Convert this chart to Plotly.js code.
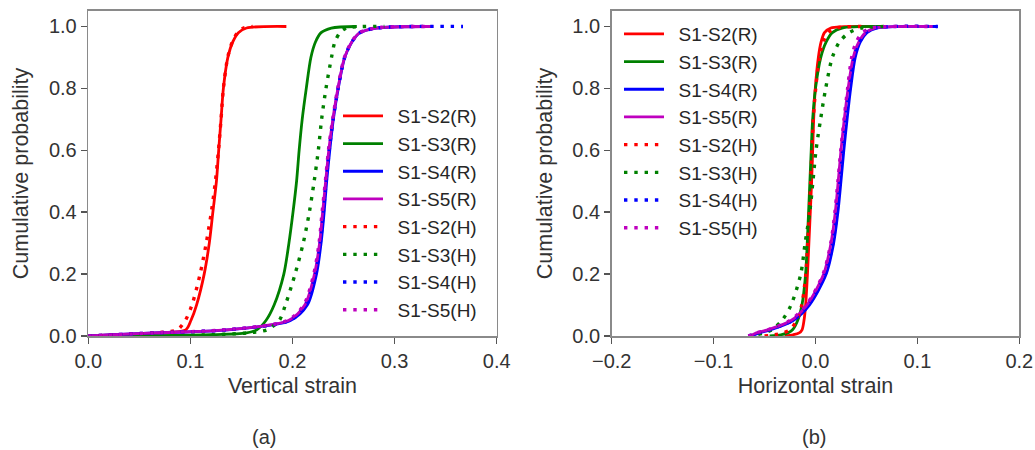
<!DOCTYPE html>
<html>
<head>
<meta charset="utf-8">
<script src="https://cdn.plot.ly/plotly-3.0.1.min.js"></script>
<style>
  html, body { margin: 0; padding: 0; background: #ffffff; }
  #chart { width: 1035px; height: 450px; }
</style>
</head>
<body>
<div id="chart"></div>
<script>
// Cumulative probability levels at which each strain quantile is listed
const probLevels = [0, 0.004, 0.01, 0.02, 0.05, 0.1, 0.2, 0.3, 0.4, 0.5, 0.6, 0.7, 0.8, 0.9, 0.95, 0.98, 0.995, 1];

// Series names (R = solid, H = dotted)
const seriesNames = ['S1-S2(R)', 'S1-S3(R)', 'S1-S4(R)', 'S1-S5(R)', 'S1-S2(H)', 'S1-S3(H)', 'S1-S4(H)', 'S1-S5(H)'];

// (a) Vertical strain quantiles
const vS2R = [0.0, 0.030, 0.070, 0.0955, 0.1005, 0.106, 0.1135, 0.1185, 0.122, 0.1255, 0.1277, 0.130, 0.1323, 0.1367, 0.1415, 0.147, 0.155, 0.194];
const vS3R = [0.02, 0.120, 0.155, 0.165, 0.174, 0.182, 0.1915, 0.1965, 0.2005, 0.204, 0.2065, 0.2095, 0.2135, 0.218, 0.2225, 0.228, 0.238, 0.263];
const vS4R = [0.0, 0.025, 0.065, 0.137, 0.198, 0.2145, 0.2235, 0.228, 0.231, 0.2335, 0.2365, 0.240, 0.2448, 0.2512, 0.2582, 0.2662, 0.282, 0.330];
const vS5R = [0.0, 0.025, 0.065, 0.135, 0.196, 0.212, 0.2215, 0.2265, 0.2295, 0.2325, 0.2355, 0.2395, 0.2445, 0.251, 0.258, 0.266, 0.282, 0.338];
const vS2H = [0.0, 0.030, 0.065, 0.087, 0.095, 0.1015, 0.1095, 0.1155, 0.1205, 0.1245, 0.1275, 0.130, 0.1323, 0.1365, 0.141, 0.146, 0.152, 0.161];
const vS3H = [0.02, 0.120, 0.155, 0.175, 0.187, 0.193, 0.2025, 0.2105, 0.2165, 0.2212, 0.2253, 0.2285, 0.2328, 0.2382, 0.2415, 0.2465, 0.253, 0.290];
const vS4H = [0.0, 0.025, 0.065, 0.136, 0.197, 0.213, 0.2225, 0.2272, 0.2302, 0.233, 0.236, 0.2398, 0.2447, 0.2511, 0.2581, 0.2661, 0.282, 0.367];
const vS5H = [0.0, 0.025, 0.065, 0.134, 0.195, 0.211, 0.2208, 0.226, 0.229, 0.2322, 0.2352, 0.2393, 0.2443, 0.2508, 0.2578, 0.2658, 0.281, 0.335];

// (b) Horizontal strain quantiles
const hS2R = [-0.030, -0.022, -0.016, -0.0132, -0.0113, -0.0097, -0.0079, -0.0065, -0.0051, -0.0038, -0.0028, -0.0018, -0.0002, 0.0028, 0.0055, 0.0088, 0.015, 0.060];
const hS3R = [-0.045, -0.034, -0.027, -0.0225, -0.0175, -0.0133, -0.0097, -0.0081, -0.0068, -0.0055, -0.0042, -0.0028, 0.0000, 0.0052, 0.0105, 0.0165, 0.026, 0.070];
const hS4R = [-0.064, -0.060, -0.055, -0.044, -0.022, -0.006, 0.0105, 0.0178, 0.022, 0.025, 0.0278, 0.031, 0.0345, 0.039, 0.044, 0.0505, 0.060, 0.120];
const hS5R = [-0.066, -0.062, -0.058, -0.047, -0.024, -0.0085, 0.008, 0.0152, 0.0194, 0.0223, 0.025, 0.0282, 0.032, 0.037, 0.0425, 0.049, 0.058, 0.115];
const hS2H = [-0.050, -0.040, -0.032, -0.025, -0.0185, -0.0135, -0.0095, -0.0076, -0.006, -0.0047, -0.0035, -0.0022, 0.0002, 0.0038, 0.0075, 0.0125, 0.020, 0.045];
const hS3H = [-0.066, -0.058, -0.050, -0.043, -0.033, -0.024, -0.0145, -0.0102, -0.0056, -0.0025, 0.0005, 0.005, 0.010, 0.0165, 0.0235, 0.033, 0.045, 0.070];
const hS4H = [-0.066, -0.061, -0.056, -0.045, -0.023, -0.007, 0.0095, 0.017, 0.021, 0.024, 0.0268, 0.0298, 0.0335, 0.038, 0.043, 0.0495, 0.058, 0.120];
const hS5H = [-0.066, -0.062, -0.058, -0.047, -0.025, -0.009, 0.0075, 0.015, 0.019, 0.022, 0.0248, 0.028, 0.0315, 0.0355, 0.040, 0.046, 0.055, 0.110];

const seriesColors = ['#ff0000', '#008000', '#0000ff', '#bf00bf', '#ff0000', '#008000', '#0000ff', '#bf00bf'];

const verticalSets = [vS2R, vS3R, vS4R, vS5R, vS2H, vS3H, vS4H, vS5H];
const horizontalSets = [hS2R, hS3R, hS4R, hS5R, hS2H, hS3H, hS4H, hS5H];

const FONT = 'Liberation Sans, Arial, sans-serif';

function buildTraces(sets, xref, yref, legendId) {
  return sets.map((xs, i) => {
    const dotted = i >= 4;
    return {
      type: 'scatter',
      mode: 'lines',
      // en space keeps a little air between the key line and its label
      name: '\u2002' + seriesNames[i],
      x: xs,
      y: probLevels,
      xaxis: xref,
      yaxis: yref,
      legend: legendId,
      line: {
        color: seriesColors[i],
        width: dotted ? 3.4 : 2.8,
        dash: dotted ? '3.4px,6.9px' : 'solid',
        shape: 'spline',
        smoothing: 0.8
      },
      hoverinfo: 'skip'
    };
  });
}

const traces = buildTraces(verticalSets, 'x', 'y', 'legend')
  .concat(buildTraces(horizontalSets, 'x2', 'y2', 'legend2'));

const W = 1035, H = 450;
const tickFont = { family: FONT, size: 20, color: '#333333' };
const titleFont = { family: FONT, size: 21.5, color: '#333333' };

function xAxis(domain, range, title) {
  return {
    domain: domain,
    range: range,
    dtick: 0.1,
    tick0: 0,
    tickformat: '.1f',
    ticks: 'outside',
    ticklen: 6,
    tickwidth: 1.5,
    tickcolor: '#555555',
    showline: true,
    linecolor: '#8a8a8a',
    linewidth: 1.6,
    mirror: true,
    showgrid: false,
    zeroline: false,
    tickfont: tickFont,
    title: { text: title, font: titleFont, standoff: 7 },
    automargin: false
  };
}

function yAxis(anchor, title) {
  return {
    domain: [(H - 336) / H, (H - 11) / H],
    range: [0, 1.05],
    anchor: anchor,
    dtick: 0.2,
    tick0: 0,
    tickformat: '.1f',
    ticks: 'outside',
    ticklen: 6,
    tickwidth: 1.5,
    tickcolor: '#555555',
    showline: true,
    linecolor: '#8a8a8a',
    linewidth: 1.6,
    mirror: true,
    showgrid: false,
    zeroline: false,
    tickfont: tickFont,
    title: { text: title, font: titleFont, standoff: 14 },
    automargin: false
  };
}

const legendBase = {
  font: { family: FONT, size: 19, color: '#262626' },
  bgcolor: 'rgba(0,0,0,0)',
  borderwidth: 0,
  itemwidth: 40,
  xanchor: 'left',
  yanchor: 'top',
  traceorder: 'normal'
};

const panelLabelFont = { family: FONT, size: 20, color: '#333333' };

const layout = {
  width: W,
  height: H,
  margin: { l: 0, r: 0, t: 0, b: 0 },
  paper_bgcolor: '#ffffff',
  plot_bgcolor: '#ffffff',
  showlegend: true,
  xaxis: Object.assign(xAxis([88.3 / W, 496.7 / W], [0, 0.4], 'Vertical strain'), { anchor: 'y' }),
  yaxis: yAxis('x', 'Cumulative probability'),
  xaxis2: Object.assign(xAxis([611.7 / W, 1019.3 / W], [-0.2, 0.2], 'Horizontal strain'), { anchor: 'y2' }),
  yaxis2: yAxis('x2', 'Cumulative probability'),
  legend: Object.assign({}, legendBase, { x: 338 / W, y: 1 - 97 / H }),
  legend2: Object.assign({}, legendBase, { x: 619 / W, y: 1 - 15 / H }),
  annotations: [
    { text: '(a)', xref: 'paper', yref: 'paper', x: 264 / W, y: 1 - 437 / H,
      xanchor: 'center', yanchor: 'middle', showarrow: false, font: panelLabelFont },
    { text: '(b)', xref: 'paper', yref: 'paper', x: 814 / W, y: 1 - 437 / H,
      xanchor: 'center', yanchor: 'middle', showarrow: false, font: panelLabelFont }
  ]
};

Plotly.newPlot('chart', traces, layout, { displayModeBar: false, staticPlot: true });
</script>
</body>
</html>
